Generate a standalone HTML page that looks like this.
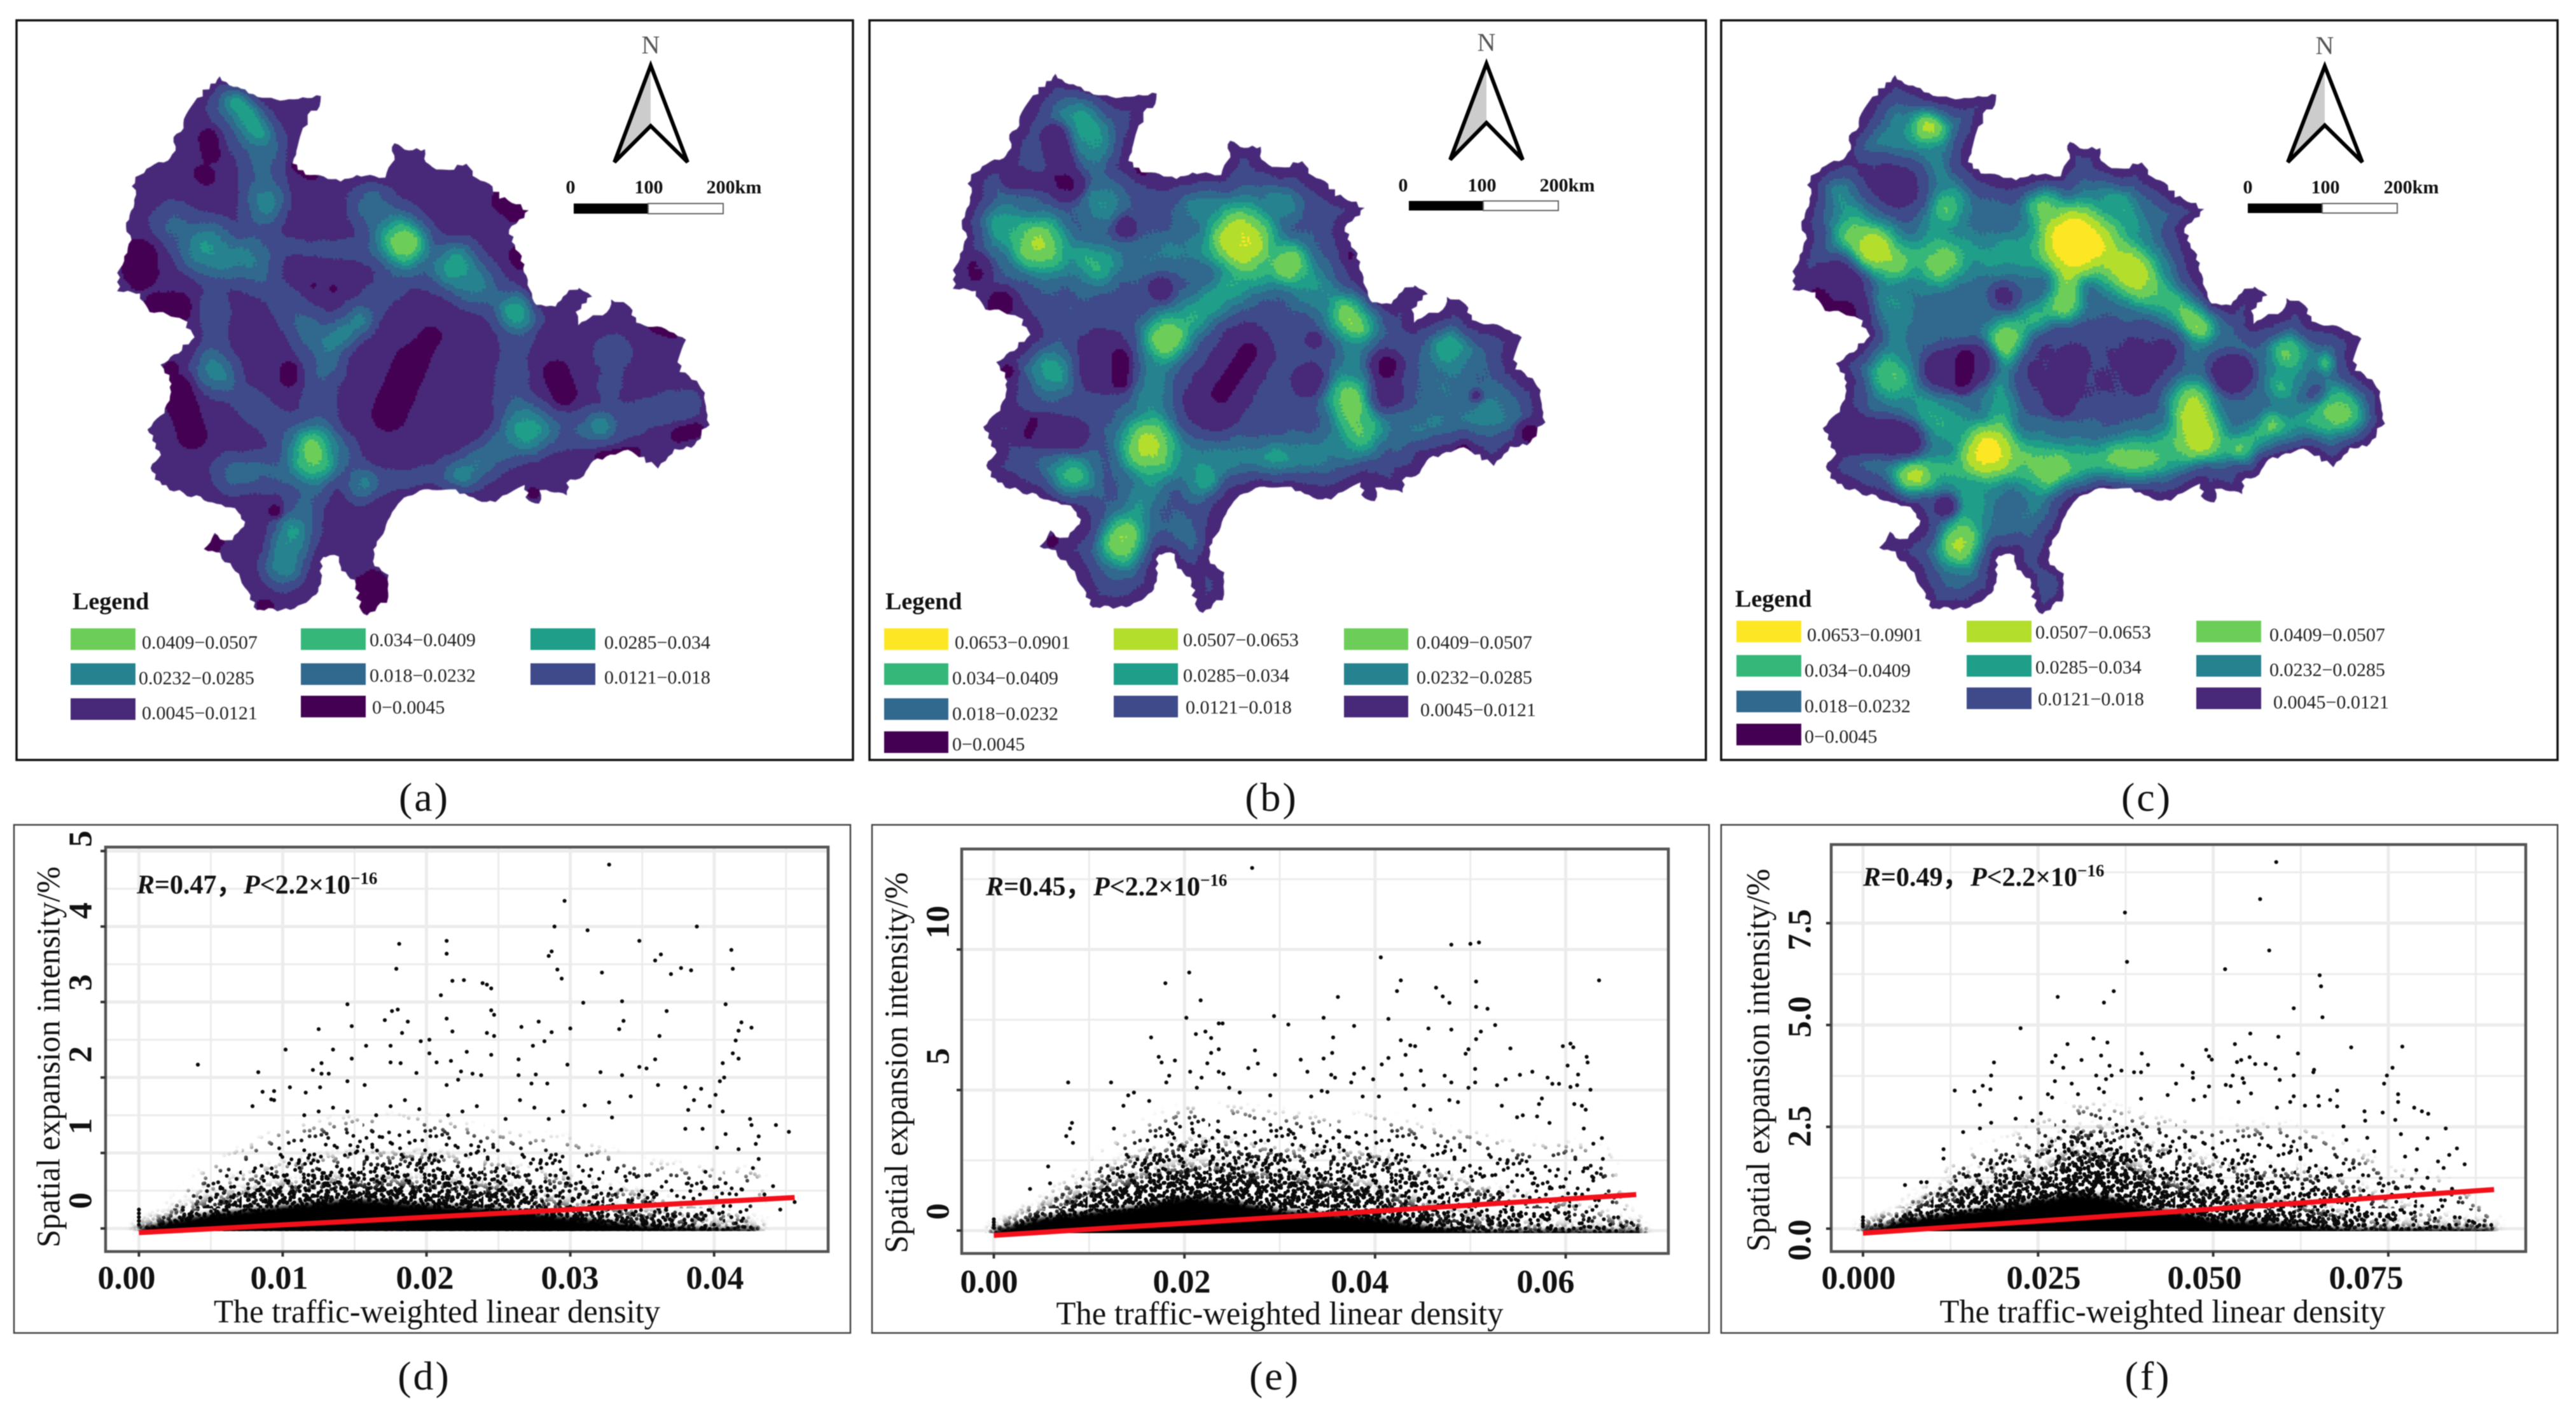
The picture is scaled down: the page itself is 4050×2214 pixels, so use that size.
<!DOCTYPE html>
<html lang="en">
<head>
<meta charset="utf-8">
<title>Traffic-weighted linear density and spatial expansion intensity</title>
<style>
html,body{margin:0;padding:0;background:#fff;}
#figure{position:relative;width:4050px;height:2214px;overflow:hidden;background:#fff;filter:blur(0.7px);}
#figure canvas{position:absolute;}
#figure svg{position:absolute;left:0;top:0;}
text{font-family:"Liberation Serif",serif;fill:#111;}
.lg{font-size:30px;fill:#222;}
.lgt{font-size:38px;font-weight:bold;}
.sc{font-size:30px;font-weight:bold;}
.n{font-size:40px;fill:#555;text-anchor:middle;}
.cap{font-size:64px;text-anchor:middle;letter-spacing:3px;}
.tk{font-size:52px;font-weight:bold;text-anchor:middle;dominant-baseline:central;}
.ax{font-size:52px;text-anchor:middle;dominant-baseline:central;}
.r{font-size:42px;font-weight:bold;}
.r .i{font-style:italic;}
.sup{font-size:27px;}
</style>
</head>
<body>
<div id="figure">
<canvas id="map-a" width="970" height="890" style="left:170px;top:100px"></canvas>
<canvas id="map-b" width="970" height="890" style="left:1484px;top:96px"></canvas>
<canvas id="map-c" width="970" height="890" style="left:2804px;top:98px"></canvas>
<svg id="svg" width="4050" height="2214" viewBox="0 0 4050 2214" xmlns="http://www.w3.org/2000/svg">
<defs id="defs">
<filter id="soft-wide" filterUnits="userSpaceOnUse" x="0" y="1200" width="4050" height="1014"><feGaussianBlur stdDeviation="9"/></filter>
<filter id="soft-narrow" filterUnits="userSpaceOnUse" x="0" y="1200" width="4050" height="1014"><feGaussianBlur stdDeviation="4"/></filter>
</defs>

<!-- panel frames -->
<rect x="26" y="32" width="1315" height="1163" fill="none" stroke="#111" stroke-width="3.5"/>
<rect x="1367" y="32" width="1315" height="1163" fill="none" stroke="#111" stroke-width="3.5"/>
<rect x="2706" y="32" width="1315" height="1163" fill="none" stroke="#111" stroke-width="3.5"/>
<rect x="22" y="1297" width="1315" height="799" fill="none" stroke="#444" stroke-width="2.5"/>
<rect x="1371" y="1297" width="1316" height="799" fill="none" stroke="#444" stroke-width="2.5"/>
<rect x="2706" y="1297" width="1315" height="799" fill="none" stroke="#444" stroke-width="2.5"/>

<!-- north arrows and scale bars -->
<g>
<text class="n" x="1023" y="84">N</text>
<polygon points="1023,103 966,255 1023,198" fill="#ccc"/>
<polygon points="1023,103 966,255 1023,198 1081,255" fill="none" stroke="#000" stroke-width="6"/>
</g>
<g>
<rect x="902" y="320" width="117" height="16" fill="#000"/><rect x="1019" y="320" width="118" height="16" fill="#fff" stroke="#666" stroke-width="2"/>
<text class="sc" x="897" y="304" text-anchor="middle">0</text><text class="sc" x="1020" y="304" text-anchor="middle">100</text><text class="sc" x="1154" y="304" text-anchor="middle">200km</text>
</g>
<g>
<text class="n" x="2337" y="80">N</text>
<polygon points="2337,100 2280,251 2337,193" fill="#ccc"/>
<polygon points="2337,100 2280,251 2337,193 2394,251" fill="none" stroke="#000" stroke-width="6"/>
</g>
<g>
<rect x="2215" y="316" width="117" height="15" fill="#000"/><rect x="2332" y="316" width="118" height="15" fill="#fff" stroke="#666" stroke-width="2"/>
<text class="sc" x="2206" y="301" text-anchor="middle">0</text><text class="sc" x="2330" y="301" text-anchor="middle">100</text><text class="sc" x="2464" y="301" text-anchor="middle">200km</text>
</g>
<g>
<text class="n" x="3655" y="85">N</text>
<polygon points="3655,104 3597,255 3655,197" fill="#ccc"/>
<polygon points="3655,104 3597,255 3655,197 3714,255" fill="none" stroke="#000" stroke-width="6"/>
</g>
<g>
<rect x="3534" y="320" width="117" height="15" fill="#000"/><rect x="3651" y="320" width="118" height="15" fill="#fff" stroke="#666" stroke-width="2"/>
<text class="sc" x="3534" y="304" text-anchor="middle">0</text><text class="sc" x="3656" y="304" text-anchor="middle">100</text><text class="sc" x="3791" y="304" text-anchor="middle">200km</text>
</g>

<!-- legend a -->
<g>
<text class="lgt" x="114" y="958">Legend</text>
<g><rect x="111" y="988" width="102" height="34" fill="#6dcd59"/><text class="lg" x="223" y="1020">0.0409−0.0507</text></g>
<g><rect x="473" y="988" width="102" height="34" fill="#35b779"/><text class="lg" x="581" y="1016">0.034−0.0409</text></g>
<g><rect x="834" y="988" width="102" height="34" fill="#1f9e89"/><text class="lg" x="950" y="1020">0.0285−0.034</text></g>
<g><rect x="111" y="1043" width="102" height="34" fill="#26828e"/><text class="lg" x="218" y="1076">0.0232−0.0285</text></g>
<g><rect x="473" y="1043" width="102" height="34" fill="#31688e"/><text class="lg" x="581" y="1072">0.018−0.0232</text></g>
<g><rect x="834" y="1043" width="102" height="34" fill="#3e4a89"/><text class="lg" x="950" y="1075">0.0121−0.018</text></g>
<g><rect x="111" y="1098" width="102" height="34" fill="#482878"/><text class="lg" x="223" y="1131">0.0045−0.0121</text></g>
<g><rect x="473" y="1094" width="102" height="34" fill="#440154"/><text class="lg" x="585" y="1122">0−0.0045</text></g>
</g>

<!-- legend b -->
<g>
<text class="lgt" x="1392" y="958">Legend</text>
<g><rect x="1390" y="988" width="101" height="34" fill="#fde725"/><text class="lg" x="1501" y="1020">0.0653−0.0901</text></g>
<g><rect x="1751" y="988" width="101" height="34" fill="#b4de2c"/><text class="lg" x="1860" y="1016">0.0507−0.0653</text></g>
<g><rect x="2113" y="988" width="101" height="34" fill="#6dcd59"/><text class="lg" x="2227" y="1020">0.0409−0.0507</text></g>
<g><rect x="1390" y="1043" width="101" height="34" fill="#35b779"/><text class="lg" x="1497" y="1076">0.034−0.0409</text></g>
<g><rect x="1751" y="1043" width="101" height="34" fill="#1f9e89"/><text class="lg" x="1860" y="1072">0.0285−0.034</text></g>
<g><rect x="2113" y="1043" width="101" height="34" fill="#26828e"/><text class="lg" x="2227" y="1075">0.0232−0.0285</text></g>
<g><rect x="1390" y="1098" width="101" height="34" fill="#31688e"/><text class="lg" x="1497" y="1132">0.018−0.0232</text></g>
<g><rect x="1751" y="1094" width="101" height="34" fill="#3e4a89"/><text class="lg" x="1864" y="1122">0.0121−0.018</text></g>
<g><rect x="2113" y="1094" width="101" height="34" fill="#482878"/><text class="lg" x="2233" y="1126">0.0045−0.0121</text></g>
<g><rect x="1390" y="1150" width="101" height="34" fill="#440154"/><text class="lg" x="1497" y="1180">0−0.0045</text></g>
</g>

<!-- legend c -->
<g>
<text class="lgt" x="2728" y="954">Legend</text>
<g><rect x="2730" y="976" width="102" height="34" fill="#fde725"/><text class="lg" x="2841" y="1008">0.0653−0.0901</text></g>
<g><rect x="3092" y="976" width="102" height="34" fill="#b4de2c"/><text class="lg" x="3200" y="1004">0.0507−0.0653</text></g>
<g><rect x="3453" y="976" width="102" height="34" fill="#6dcd59"/><text class="lg" x="3568" y="1008">0.0409−0.0507</text></g>
<g><rect x="2730" y="1030" width="102" height="34" fill="#35b779"/><text class="lg" x="2837" y="1064">0.034−0.0409</text></g>
<g><rect x="3092" y="1030" width="102" height="34" fill="#1f9e89"/><text class="lg" x="3200" y="1059">0.0285−0.034</text></g>
<g><rect x="3453" y="1030" width="102" height="34" fill="#26828e"/><text class="lg" x="3568" y="1063">0.0232−0.0285</text></g>
<g><rect x="2730" y="1086" width="102" height="34" fill="#31688e"/><text class="lg" x="2837" y="1120">0.018−0.0232</text></g>
<g><rect x="3092" y="1081" width="102" height="34" fill="#3e4a89"/><text class="lg" x="3204" y="1109">0.0121−0.018</text></g>
<g><rect x="3453" y="1081" width="102" height="34" fill="#482878"/><text class="lg" x="3574" y="1114">0.0045−0.0121</text></g>
<g><rect x="2730" y="1138" width="102" height="34" fill="#440154"/><text class="lg" x="2837" y="1168">0−0.0045</text></g>
</g>

<!-- captions -->
<text class="cap" x="667" y="1275">(a)</text>
<text class="cap" x="1999" y="1275">(b)</text>
<text class="cap" x="3375" y="1275">(c)</text>
<text class="cap" x="667" y="2185">(d)</text>
<text class="cap" x="2004" y="2185">(e)</text>
<text class="cap" x="3377" y="2185">(f)</text>

<!-- scatter plot layers are inserted here by script -->
<g id="plot-d"></g>
<g id="plot-e"></g>
<g id="plot-f"></g>

<!-- plot d text -->
<g>
<text class="tk" x="199" y="2010">0.00</text>
<text class="tk" x="439" y="2010">0.01</text>
<text class="tk" x="668" y="2010">0.02</text>
<text class="tk" x="896" y="2010">0.03</text>
<text class="tk" x="1124" y="2010">0.04</text>
<text class="tk" transform="translate(127,1888) rotate(-90)">0</text>
<text class="tk" transform="translate(127,1771) rotate(-90)">1</text>
<text class="tk" transform="translate(127,1658) rotate(-90)">2</text>
<text class="tk" transform="translate(127,1545) rotate(-90)">3</text>
<text class="tk" transform="translate(127,1432) rotate(-90)">4</text>
<text class="tk" transform="translate(127,1319) rotate(-90)">5</text>
<text class="ax" x="687" y="2063" textLength="702" lengthAdjust="spacingAndGlyphs">The traffic-weighted linear density</text>
<text class="ax" transform="translate(77,1662) rotate(-90)" textLength="599" lengthAdjust="spacingAndGlyphs">Spatial expansion intensity/%</text>
<text class="r" x="215" y="1405"><tspan class="i">R</tspan>=0.47，<tspan class="i" x="383">P</tspan>&lt;2.2×10<tspan class="sup" dy="-15">−16</tspan></text>
</g>

<!-- plot e text -->
<g>
<text class="tk" x="1555" y="2016">0.00</text>
<text class="tk" x="1858" y="2016">0.02</text>
<text class="tk" x="2138" y="2016">0.04</text>
<text class="tk" x="2430" y="2016">0.06</text>
<text class="tk" transform="translate(1475,1905) rotate(-90)">0</text>
<text class="tk" transform="translate(1475,1661) rotate(-90)">5</text>
<text class="tk" transform="translate(1475,1450) rotate(-90)">10</text>
<text class="ax" x="2012" y="2066" textLength="703" lengthAdjust="spacingAndGlyphs">The traffic-weighted linear density</text>
<text class="ax" transform="translate(1410,1671) rotate(-90)" textLength="599" lengthAdjust="spacingAndGlyphs">Spatial expansion intensity/%</text>
<text class="r" x="1550" y="1408"><tspan class="i">R</tspan>=0.45，<tspan class="i" x="1719">P</tspan>&lt;2.2×10<tspan class="sup" dy="-15">−16</tspan></text>
</g>

<!-- plot f text -->
<g>
<text class="tk" x="2922" y="2010">0.000</text>
<text class="tk" x="3213" y="2010">0.025</text>
<text class="tk" x="3466" y="2010">0.050</text>
<text class="tk" x="3720" y="2010">0.075</text>
<text class="tk" transform="translate(2830,1950) rotate(-90)">0.0</text>
<text class="tk" transform="translate(2830,1771) rotate(-90)">2.5</text>
<text class="tk" transform="translate(2830,1599) rotate(-90)">5.0</text>
<text class="tk" transform="translate(2830,1462) rotate(-90)">7.5</text>
<text class="ax" x="3400" y="2063" textLength="701" lengthAdjust="spacingAndGlyphs">The traffic-weighted linear density</text>
<text class="ax" transform="translate(2765,1667) rotate(-90)" textLength="602" lengthAdjust="spacingAndGlyphs">Spatial expansion intensity/%</text>
<text class="r" x="2929" y="1393"><tspan class="i">R</tspan>=0.49，<tspan class="i" x="3098">P</tspan>&lt;2.2×10<tspan class="sup" dy="-15">−16</tspan></text>
</g>
</svg>
</div>

<script>
/* ---------- density classes ---------- */
const classLimits = [0.0045,0.0121,0.018,0.0232,0.0285,0.034,0.0409,0.0507,0.0653];
const classColors = ["#440154","#482878","#3e4a89","#31688e","#26828e","#1f9e89","#35b779","#6dcd59","#b4de2c","#fde725"];

/* study-area outline, map units */
const outline = [[395,150],[420,170],[440,178],[480,195],[520,195],[578,188],[575,208],[555,225],[545,260],[530,295],[528,318],[550,340],[590,350],[605,352],[650,345],[690,345],[705,320],[710,280],[735,295],[765,292],[765,320],[800,335],[840,320],[850,345],[880,360],[900,385],[950,410],[935,430],[915,450],[925,480],[940,510],[945,540],[965,600],[1000,600],[1025,570],[1045,560],[1065,580],[1040,610],[1040,635],[1090,610],[1100,585],[1135,600],[1145,630],[1190,640],[1235,665],[1220,700],[1225,725],[1265,760],[1275,830],[1250,870],[1215,880],[1185,915],[1130,880],[1060,905],[1050,930],[1020,945],[1020,970],[975,960],[970,985],[950,980],[945,950],[920,965],[875,985],[820,960],[770,955],[715,985],[700,1010],[680,1060],[670,1100],[700,1125],[700,1170],[660,1205],[650,1195],[638,1135],[610,1110],[610,1090],[578,1090],[580,1135],[570,1165],[530,1190],[460,1195],[450,1165],[435,1130],[395,1085],[368,1075],[385,1045],[410,1060],[440,1030],[430,1000],[390,985],[330,965],[290,950],[270,915],[290,890],[265,840],[300,800],[310,750],[290,715],[320,690],[350,660],[330,625],[270,610],[245,570],[215,570],[215,525],[235,470],[225,435],[245,390],[240,355],[270,325],[310,310],[315,270],[335,235],[350,200],[380,165]];

/* density ridges: x1,y1,x2,y2,spread,peak density */
const mapAPeaks = [[430,205,465,260,20,.029],[420,200,470,300,38,.0165],[470,300,470,420,30,.0165],[480,390,480,390,25,.0225],[375,485,375,485,34,.028],[310,440,400,510,32,.018],[450,505,450,505,32,.0215],[450,510,550,640,28,.015],[550,640,590,720,28,.015],[585,720,570,830,28,.015],[600,665,650,625,20,.0215],[590,680,730,530,28,.015],[730,475,730,475,26,.047],[720,470,720,470,38,.03],[665,400,720,470,32,.02],[820,515,820,515,28,.0285],[740,490,850,550,32,.019],[850,550,930,610,30,.018],[930,610,930,610,26,.03],[925,640,920,780,26,.015],[950,840,950,840,32,.0285],[830,930,940,850,26,.021],[960,850,1080,830,28,.016],[1080,835,1240,790,28,.015],[1100,690,1100,690,32,.0145],[1095,755,1095,755,20,.0145],[1080,835,1080,835,16,.02],[390,725,390,725,28,.0215],[385,600,385,725,24,.015],[385,730,500,840,24,.015],[562,880,565,900,28,.042],[560,885,560,885,40,.03],[610,880,650,950,26,.015],[650,950,830,930,24,.0135],[655,945,655,945,20,.0205],[420,925,530,920,28,.0185],[565,930,525,1060,28,.017],[525,1045,510,1105,26,.0265],[500,485,650,490,20,.0125]];
const mapACold = [[375,270,380,300,22,.8],[365,340,372,345,20,.8],[255,500,255,530,38,.8],[290,600,320,600,32,.8],[320,760,345,850,32,.8],[300,730,310,720,14,.8],[520,725,520,740,20,.8],[775,660,735,720,24,.8],[740,710,700,810,38,.8],[1000,730,1015,770,28,.8],[905,395,925,410,25,.8],[495,1000,495,1000,15,.8],[670,1150,670,1170,34,.8],[475,1185,480,1185,14,.8],[1220,850,1250,840,18,.7],[1080,895,1140,885,14,.7],[1180,640,1210,650,14,.7],[930,500,935,510,18,.7],[600,565,600,565,8,.8],[565,558,565,558,6,.8],[535,325,560,340,14,.7],[380,1075,390,1060,14,.8],[960,965,960,965,12,.8]];

const mapBPeaks = [[695,470,695,470,45,.068],[320,475,320,475,42,.05],[250,440,330,490,35,.03],[780,515,780,515,30,.045],[900,620,900,620,35,.05],[555,665,555,665,30,.042],[520,875,520,875,42,.058],[475,1060,475,1060,38,.05],[890,780,910,840,32,.041],[345,725,345,725,35,.03],[380,935,380,935,35,.034],[625,940,625,940,28,.03],[400,220,420,280,35,.03],[435,395,435,395,30,.024],[1075,680,1075,680,35,.03],[1160,815,1160,815,45,.021],[1060,750,1060,750,35,.02],[430,520,430,520,25,.027],[405,500,405,500,20,.025],[755,905,755,905,25,.024],[590,1060,590,1060,25,.023],[555,655,720,530,30,.032],[540,690,525,830,25,.025],[750,490,880,610,30,.025],[900,650,890,770,24,.022],[525,930,480,1040,25,.024],[300,490,430,520,30,.02],[430,520,640,480,30,.02],[560,910,900,880,28,.022],[910,850,1160,810,30,.018],[610,400,700,430,32,.024],[760,390,770,400,25,.024]];
const mapBCold = [[440,700,440,720,60,.5],[470,700,470,745,20,.75],[640,790,700,690,62,.5],[655,770,705,690,20,.8],[960,715,960,715,32,.78],[960,770,960,770,38,.45],[815,745,815,745,38,.45],[825,665,825,665,18,.45],[545,565,545,565,28,.45],[480,445,480,445,25,.5],[350,270,370,370,30,.55],[270,350,390,360,22,.45],[1125,775,1125,775,14,.45],[205,525,205,530,30,.7],[250,590,250,590,32,.75],[300,840,380,850,36,.5],[300,850,310,825,10,.75],[265,725,265,725,18,.65],[1100,885,1100,885,20,.7],[1220,845,1220,845,24,.7],[510,330,510,330,18,.65],[890,500,890,500,14,.55],[345,1060,345,1060,16,.65]];

const mapCPeaks = [[672,470,672,470,45,.092],[720,490,770,530,40,.056],[610,400,650,500,30,.042],[660,480,650,600,22,.045],[790,560,880,620,30,.036],[885,630,885,630,30,.05],[405,250,405,250,28,.05],[305,485,305,485,35,.056],[270,460,340,510,28,.042],[425,515,425,515,35,.036],[435,405,435,405,25,.03],[545,675,545,675,28,.048],[545,660,650,590,25,.036],[335,735,335,735,30,.031],[510,885,510,885,38,.075],[375,935,375,935,28,.044],[460,1065,460,1065,35,.05],[870,780,890,850,35,.06],[1145,810,1145,810,40,.043],[1050,690,1050,690,28,.036],[1120,710,1120,710,15,.033],[1035,755,1035,755,18,.029],[1020,830,1020,830,20,.034],[510,885,620,920,35,.037],[620,920,760,905,35,.037],[760,905,880,870,35,.037],[880,870,975,880,20,.035],[975,870,1145,810,30,.03],[540,700,530,870,25,.031],[885,640,870,780,22,.03],[500,900,370,935,25,.034],[480,960,460,1060,30,.028],[300,500,430,510,30,.027],[430,510,600,490,30,.028],[335,600,335,740,30,.024],[335,740,420,825,30,.024],[420,825,500,870,30,.024],[1050,700,1035,760,25,.024],[400,260,430,400,35,.021],[430,400,420,500,35,.021],[300,290,410,250,30,.021],[240,390,300,470,30,.024],[610,1000,610,1000,30,.02],[740,395,760,440,30,.03],[600,1140,610,1140,30,.017]];
const mapCCold = [[430,725,490,710,45,.6],[470,700,465,750,22,.65],[620,720,830,720,85,.42],[660,710,640,790,28,.55],[780,740,780,740,24,.55],[950,730,950,730,42,.68],[320,350,360,370,55,.5],[240,560,240,590,60,.65],[280,850,360,860,40,.6],[540,580,540,580,30,.45],[435,990,435,990,25,.6],[1100,770,1100,770,20,.3]];

const SCALE_Y = 0.8036;
function renderMap(id, peaks, cold, base, floor, fadeW, kx, ox, oy) {
  const canvas = document.getElementById(id);
  const ctx = canvas.getContext('2d');
  const W = canvas.width, H = canvas.height, STEP = 3;
  const tp = (p,m) => [p[0]*kx+ox, p[1]*SCALE_Y+oy, p[2]*kx+ox, p[3]*SCALE_Y+oy, p[4]*m, p[5]];
  const K = peaks.map(p => tp(p, p[5]>=.05 ? .88 : p[5]>=.03 ? 1.0 : 1.15));
  const C = cold.map(p => tp(p,.85));
  const poly = outline.map(p => [p[0]*0.8737-170, p[1]*SCALE_Y-100]);
  const seg2 = (x,y,s) => {
    const dx=s[2]-s[0], dy=s[3]-s[1], l=dx*dx+dy*dy;
    let t = l>0 ? ((x-s[0])*dx+(y-s[1])*dy)/l : 0;
    t = t<0?0:t>1?1:t;
    const ax=x-s[0]-t*dx, ay=y-s[1]-t*dy;
    return ax*ax+ay*ay;
  };
  ctx.save();
  ctx.beginPath();
  for (let i=0;i<poly.length;i++) {
    const a=poly[i], b=poly[(i+1)%poly.length];
    const L=Math.hypot(b[0]-a[0],b[1]-a[1]), n=Math.max(1,Math.round(L/7));
    for (let j=0;j<n;j++) {
      const t=j/n, x=a[0]+(b[0]-a[0])*t, y=a[1]+(b[1]-a[1])*t;
      const w=2.4*Math.sin(x*0.73+y*1.31)+1.6*Math.sin(x*1.9-y*0.87);
      const px=x-(b[1]-a[1])/L*w, py=y+(b[0]-a[0])/L*w;
      if (i===0&&j===0) ctx.moveTo(px,py); else ctx.lineTo(px,py);
    }
  }
  ctx.closePath();
  ctx.clip();
  for (let cy=0;cy<H;cy+=STEP) {
    for (let cx=0;cx<W;cx+=STEP) {
      const x=cx+1.5, y=cy+1.5;
      let e=1e9;
      for (let i=0;i<poly.length;i++) {
        const a=poly[i], b=poly[(i+1)%poly.length];
        const d=seg2(x,y,[a[0],a[1],b[0],b[1]]);
        if(d<e) e=d;
      }
      e=Math.sqrt(e);
      let f3=base*base*base;
      for (const k of K) {
        const d=seg2(x,y,k);
        if (d>16*k[4]*k[4]) continue;
        const g=k[5]*Math.exp(-d/(2*k[4]*k[4]));
        f3+=g*g*g;
      }
      let f=Math.cbrt(f3);
      for (const c of C) {
        const d=seg2(x,y,c)/(c[4]*c[4]);
        if (d>6) continue;
        f*=1-c[5]*Math.exp(-d*d);
      }
      f*=floor+(1-floor)*Math.min(1,e/fadeW);
      /* contour roughness */
      const wob=.5*Math.sin(x*.035+y*.021)+.5*Math.sin(x*.017-y*.043+1.3)+.35*Math.sin(x*.09+y*.07)+.3*Math.sin(x*.13-y*.11+.7);
      f*=1+.07*wob+.03*Math.sin(x*.5+y*.37)*Math.sin(x*.31-y*.6);
      let cls=0;
      while (cls<classLimits.length && f>=classLimits[cls]) cls++;
      ctx.fillStyle=classColors[cls];
      ctx.fillRect(cx,cy,STEP,STEP);
    }
  }
  ctx.restore();
}
renderMap('map-a', mapAPeaks, mapACold, 0.0085, 0.75, 20, 0.8737, -170, -100);
renderMap('map-b', mapBPeaks, mapBCold, 0.0165, 0.5, 45, 0.8546, 1360-1484, -96);
renderMap('map-c', mapCPeaks, mapCCold, 0.020, 0.4, 45, 0.8737, 2680-2804, -98);

/* ---------- scatter data ---------- */
const dXMajor=[0,.01,.02,.03,.04];
const dXMinor=[.005,.015,.025,.035,.045];
const dYMajor=[0,1,2,3,4,5];
const dYMinor=[.5,1.5,2.5,3.5,4.5];
const dBandX=[0,.002,.005,.01,.015,.02,.025,.03,.035,.038,.04,.043];
const dSolid=[0,.1,.2,.30,.40,.32,.27,.15,.05,.02,0,0];
const dDense=[0,.14,.38,.55,.65,.6,.55,.3,.2,.12,.03,0];
const dMid=[0,.16,.5,.8,.95,.95,.8,.6,.4,.25,.2,.05];
const dSparse=[0,.18,.75,1.25,1.4,1.4,1.2,1.1,.8,.75,.7,.7];
const dTrendX=[0,.0456];
const dTrendY=[-.055,.41];
const dPoints=[[0,.05],[0,.1],[0,.15],[0,.2],[0,.25],[.0327,4.82],[.0296,4.34],[.0289,4],[.0312,3.95],[.0388,4],[.0348,3.81],[.0214,3.81],[.0214,3.64],[.0181,3.77],[.0179,3.44],[.0285,3.61],[.0287,3.67],[.0412,3.69],[.0413,3.44],[.0363,3.63],[.0359,3.55],[.0377,3.45],[.0384,3.42],[.037,3.37],[.0322,3.39],[.0291,3.43],[.0294,3.31],[.0218,3.28],[.0226,3.29],[.0239,3.25],[.0245,3.18],[.0242,3.23],[.021,3.09],[.0145,2.97],[.0309,2.99],[.0336,3.01],[.0408,2.97],[.0245,2.89],[.0247,2.83],[.0367,2.88],[.018,2.9],[.0176,2.88],[.0171,2.76],[.0187,2.74],[.0214,2.78],[.0266,2.67],[.0278,2.74],[.0337,2.75],[.0334,2.64],[.0419,2.73],[.0426,2.66],[.0417,2.62],[.0125,2.64],[.0148,2.68],[.03,2.65],[.0287,2.6],[.0218,2.61],[.0242,2.59],[.0247,2.55],[.0362,2.55],[.0196,2.48],[.0202,2.5],[.0158,2.42],[.0175,2.42],[.0183,2.59],[.0102,2.37],[.0135,2.37],[.0415,2.49],[.0274,2.42],[.0282,2.48],[.0413,2.32],[.0417,2.25],[.0202,2.32],[.0228,2.34],[.0245,2.3],[.0041,2.17],[.0148,2.25],[.0264,2.24],[.0359,2.24],[.0348,2.14],[.0353,2.12],[.0298,2.17],[.0207,2.2],[.0217,2.22],[.0175,2.2],[.0182,2.19],[.0083,2.07],[.0121,2.1],[.0127,2.19],[.0127,2.05],[.0132,2.05],[.0321,2.07],[.0336,2.03],[.0406,2.19],[.0193,2.06],[.0224,2.08],[.0232,2.05],[.0238,2.03],[.0264,2.03],[.0276,2.04],[.0407,2],[.0404,1.95],[.0361,1.9],[.038,1.87],[.0391,1.85],[.0105,1.87],[.0086,1.81],[.0094,1.82],[.0116,1.8],[.0126,1.87],[.0157,1.9],[.0145,1.95],[.0214,1.9],[.0222,1.97],[.0273,1.92],[.0284,1.92],[.0342,1.75],[.0401,1.77],[.0092,1.71],[.0094,1.7],[.0079,1.62],[.031,1.63],[.0327,1.67],[.0397,1.62],[.0386,1.7],[.0329,1.47],[.0382,1.57],[.0406,1.55],[.0443,1.37],[.0452,1.28],[.0425,1.45],[.0426,1.37],[.038,1.32],[.0392,1.32],[.0408,1.25],[.0431,1.22],[.0429,1.12],[.0417,1.05],[.0431,.92],[.0427,.8],[.0441,.56],[.0435,.45],[.0456,.35],[.0446,.25],[.0402,1.07],[.0394,.75],[.0408,.6],[.0419,.52],[.0394,.17],[.04,.05],[.0412,.15],[.0419,.1],[.0185,1.7],[.0175,1.62],[.0195,1.58],[.0225,1.55],[.0235,1.62],[.0265,1.7],[.0275,1.6],[.0295,1.55],[.0135,1.6],[.0125,1.55],[.0145,1.55],[.0115,1.5],[.0165,1.5],[.0215,1.5],[.0285,1.45],[.0255,1.45]];

const eXMajor=[0,.02,.04,.06];
const eXMinor=[.01,.03,.05];
const eYMajor=[0,5,10];
const eYMinor=[2.5,7.5,12.5];
const eBandX=[0,.002,.005,.01,.015,.02,.025,.03,.035,.04,.045,.05,.055,.06,.064,.066,.068];
const eSolid=[0,.2,.47,.67,.87,1.2,1.07,.74,.6,.47,.2,.02,0,0,0,0,0];
const eDense=[0,.25,.7,1.4,1.9,2.3,2.2,1.9,1.8,1.5,.9,.4,.15,.05,0,0,0];
const eMid=[0,.3,.8,1.7,2.6,3.1,3,2.8,2.7,2.6,2.1,1.5,1.1,.9,.5,.2,0];
const eSparse=[0,.35,.9,2.1,3.5,4.2,4.2,4,3.8,3.9,3.5,3.3,2.8,2.9,2.7,.6,.15];
const eTrendX=[0,.0674];
const eTrendY=[-.17,1.28];
const ePoints=[[0,.1],[0,.2],[0,.3],[0,.4],[.0271,12.9],[.048,10.17],[.05,10.2],[.0509,10.25],[.0406,9.72],[.0205,9.18],[.018,8.8],[.0427,8.9],[.0506,8.86],[.0635,8.9],[.0423,8.52],[.0464,8.64],[.0471,8.33],[.0478,8.1],[.0361,8.31],[.0217,8.19],[.0506,7.96],[.0518,7.89],[.0294,7.63],[.0346,7.57],[.0202,7.57],[.0414,7.53],[.0526,7.31],[.0309,7.33],[.0378,7.28],[.0236,7.37],[.024,7.37],[.0456,7.19],[.048,7.15],[.0511,7.08],[.0165,6.87],[.0212,6.99],[.0222,7.08],[.0228,6.85],[.0356,6.87],[.0427,6.77],[.0506,6.81],[.0442,6.56],[.0437,6.59],[.0542,6.48],[.0597,6.56],[.0605,6.65],[.0608,6.52],[.0274,6.41],[.0236,6.45],[.0228,6.32],[.0498,6.45],[.0495,6.29],[.0432,6.25],[.0355,6.32],[.0173,6.18],[.0622,6.18],[.0623,5.98],[.019,6.05],[.0346,6.12],[.0322,6.08],[.0414,6.14],[.0407,5.91],[.0176,5.98],[.0224,5.95],[.0277,5.94],[.0267,5.78],[.0329,5.65],[.0602,5.87],[.0505,5.75],[.0448,5.69],[.0565,5.65],[.0613,5.55],[.0184,5.51],[.0206,5.65],[.0218,5.44],[.0236,5.65],[.0241,5.58],[.0295,5.54],[.0354,5.54],[.0358,5.44],[.0388,5.78],[.0378,5.58],[.0398,5.38],[.0428,5.54],[.0473,5.51],[.0552,5.54],[.0537,5.38],[.0581,5.44],[.0078,5.27],[.0123,5.27],[.0181,5.27],[.0375,5.27],[.048,5.27],[.0505,5.27],[.0528,5.17],[.0586,5.22],[.0593,5.22],[.0605,5.11],[.0612,5.17],[.0451,5.17],[.0498,5.08],[.0626,5.01],[.0432,5.04],[.0213,5.08],[.0247,5.08],[.0344,4.97],[.035,4.93],[.0258,4.91],[.0147,4.91],[.0141,4.81],[.029,4.81],[.0333,4.77],[.0387,4.77],[.0404,4.77],[.0575,4.7],[.0478,4.64],[.0487,4.57],[.0163,4.61],[.0136,4.44],[.0533,4.44],[.0621,4.3],[.0572,4.5],[.0441,4.44],[.0458,4.3],[.0609,4.5],[.0617,4.44],[.0549,4.03],[.0555,4.1],[.057,4.06],[.0638,3.29],[.0629,3.09],[.0082,3.83],[.008,3.63],[.0076,3.36],[.0083,3.12],[.0583,3.83],[.0619,3.63],[.0126,3.63],[.0057,2.28],[.0059,1.68],[.0038,1.48],[.0639,2.55],[.0623,2.22],[.0629,1.88],[.0655,.47],[.064,.4],[.0675,.07],[.0669,.27],[.066,.13],[.0635,.07]];

const fXMajor=[0,.025,.05,.075];
const fXMinor=[.0125,.0375,.0625,.0875];
const fYMajor=[0,2.5,5,7.5];
const fYMinor=[1.25,3.75,6.25,8.75];
const fBandX=[0,.003,.005,.01,.015,.02,.025,.03,.035,.04,.045,.05,.055,.06,.065,.07,.075,.08,.085,.09];
const fSolid=[0,.09,.19,.33,.45,.56,.7,.88,.79,.56,.42,.23,.19,.14,.05,0,0,0,0,0];
const fDense=[0,.16,.26,.7,.9,1.1,1.3,1.9,1.8,1.4,1.1,.8,.7,.6,.5,.2,.1,0,0,0];
const fMid=[0,.2,.34,.8,1.3,1.5,1.8,2.4,2.4,2,1.8,1.5,1.4,1.4,1.3,1,.6,.3,.1,0];
const fSparse=[0,.24,.42,.95,1.7,2,2.4,2.9,2.9,2.6,2.5,2.4,2.4,2.4,2.2,1.8,1.3,1.2,.9,.2];
const fTrendX=[0,.0901];
const fTrendY=[-.11,.96];
const fPoints=[[0,.05],[0,.12],[0,.2],[0,.28],[.059,9],[.0567,8.09],[.0374,7.76],[.058,6.83],[.0377,6.55],[.0517,6.37],[.0652,6.22],[.0654,5.95],[.0358,5.83],[.0278,5.69],[.0344,5.55],[.0615,5.41],[.0656,5.19],[.0225,4.92],[.0553,4.79],[.0593,4.71],[.0329,4.67],[.0349,4.57],[.0292,4.53],[.0531,4.53],[.077,4.47],[.0697,4.45],[.049,4.39],[.0621,4.3],[.0398,4.3],[.0275,4.25],[.034,4.25],[.0494,4.23],[.0552,4.21],[.0498,4.15],[.0312,4.14],[.054,4.14],[.0534,4.09],[.027,4.09],[.0187,4.08],[.056,4.04],[.0407,4.02],[.0456,4.01],[.0352,4],[.0575,4.04],[.0286,3.95],[.0756,3.95],[.0644,3.9],[.0589,3.93],[.0643,3.84],[.0369,3.88],[.0387,3.84],[.0397,3.84],[.0471,3.83],[.0183,3.76],[.0333,3.76],[.0355,3.76],[.0528,3.76],[.0615,3.76],[.0748,3.76],[.0542,3.69],[.0595,3.65],[.0471,3.7],[.0274,3.62],[.0347,3.67],[.0447,3.56],[.0298,3.56],[.0744,3.56],[.0518,3.53],[.0171,3.51],[.0525,3.5],[.0544,3.58],[.0494,3.49],[.0337,3.44],[.0182,3.42],[.0131,3.39],[.0159,3.37],[.0677,3.39],[.0344,3.35],[.0764,3.3],[.0264,3.3],[.0307,3.3],[.0554,3.32],[.0435,3.28],[.0488,3.25],[.0615,3.25],[.065,3.25],[.0667,3.16],[.0225,3.21],[.027,3.22],[.0536,3.11],[.0397,3.19],[.0472,3.16],[.0764,3.11],[.061,3.11],[.0651,3.02],[.0631,3.02],[.0591,2.97],[.0677,3],[.0167,3.04],[.0787,2.97],[.0798,2.88],[.0716,2.88],[.0742,2.85],[.0807,2.82],[.0717,2.65],[.076,2.67],[.0686,2.51],[.0832,2.46],[.0768,2.32],[.0806,2.22],[.072,2.23],[.069,2.18],[.0791,1.95],[.0848,1.97],[.0837,1.81],[.073,1.9],[.0774,1.77],[.0859,1.58],[.0821,1.65],[.0829,1.49],[.079,1.44],[.0806,1.25],[.0841,.98],[.0798,1.02],[.0845,.28],[.0865,.19],[.0897,.09],[.0877,.05],[.0837,.09],[.081,.05],[.0786,.09],[.0873,.14],[.006,1.07],[.0083,1.14],[.0091,1.14],[.0115,1.72],[.0115,1.95],[.0143,2.37],[.0167,2.46],[.0183,2.6],[.0218,2.7],[.0242,2.65],[.0254,2.83]];

/* ---------- scatter rendering ---------- */
const NS='http://www.w3.org/2000/svg';
function mk(tag, parent, attrs){
  const el=document.createElementNS(NS,tag);
  for(const k in attrs) el.setAttribute(k,attrs[k]);
  parent.appendChild(el);
  return el;
}
const defs=document.getElementById('defs');
function stipple(id, size, count){
  const p=mk('pattern',defs,{id:id,width:size,height:size,patternUnits:'userSpaceOnUse'});
  for(let i=0;i<count;i++){
    const u=(i*0.7548776662+0.37*Math.sin(i*2.399))%1, v=(i*0.5698402910+0.31*Math.cos(i*1.731))%1;
    const c=mk('circle',p,{cx:((u+1)%1)*size,cy:((v+1)%1)*size,r:3,fill:'#0a0a0a'});
    
    
  }
}
stipple('st-dense',190,1350);
stipple('st-mid',190,560);
stipple('st-sparse',190,190);

function drawScatter(groupId, box, xOrigin, xPerUnit, yOrigin, yPerUnit, xMaj, xMin, yMaj, yMin, bandX, solid, dense, mid, sparse, trendX, trendY, points){
  const g=document.getElementById(groupId);
  const X=v=>xOrigin+v*xPerUnit;
  const Y=v=>yOrigin-v*yPerUnit;
  const clipId=groupId+'-clip';
  const clip=mk('clipPath',defs,{id:clipId});
  mk('rect',clip,{x:box[0],y:box[1],width:box[2]-box[0],height:box[3]-box[1]});
  const baseClipId=groupId+'-base-clip';
  const baseClip=mk('clipPath',defs,{id:baseClipId});
  mk('rect',baseClip,{x:box[0],y:box[1],width:box[2]-box[0],height:Y(0)+4-box[1]});
  const plot=mk('g',g,{'clip-path':'url(#'+clipId+')'});
  
  
  const grid=(arr,vertical,w)=>arr.forEach(v=>{
    const p=vertical?X(v):Y(v);
    const l=mk('line',plot,vertical?{x1:p,x2:p,y1:box[1],y2:box[3]}:{x1:box[0],x2:box[2],y1:p,y2:p});
    l.setAttribute('stroke','#ececec');
    l.setAttribute('stroke-width',w);
    
    
  });
  grid(xMin,true,3);grid(yMin,false,3);grid(xMaj,true,5);grid(yMaj,false,5);
  const cloud=mk('g',plot,{'clip-path':'url(#'+baseClipId+')'});
  
  
  const envelope=vals=>{
    const pts=bandX.map((x,i)=>X(x)+','+Y(vals[i]));
    pts.push(X(bandX[bandX.length-1])+','+(yOrigin+60));
    pts.push(X(bandX[0])+','+(yOrigin+60));
    return pts.join(' ');
  };
  const band=(vals,fill,name)=>{
    const maskId=groupId+'-'+name;
    const m=mk('mask',defs,{id:maskId,maskUnits:'userSpaceOnUse',x:box[0],y:box[1],width:box[2]-box[0],height:box[3]-box[1]});
    const shape=mk('polygon',m,{points:envelope(vals),fill:'#fff',filter:'url(#soft-wide)'});
    
    
    const a=mk('rect',cloud,{x:box[0],y:box[1],width:box[2]-box[0],height:box[3]-box[1],fill:fill,mask:'url(#'+maskId+')'});
    
    
  };
  band(sparse,'url(#st-sparse)','sparse-point-cloud');
  band(mid,'url(#st-mid)','medium-point-cloud');
  band(dense,'url(#st-dense)','dense-point-cloud');
  const mass=mk('polygon',cloud,{points:envelope(solid),fill:'#050505',filter:'url(#soft-narrow)'});
  
  
  points.forEach(p=>{
    const c=mk('circle',plot,{cx:X(p[0]),cy:Y(p[1]),r:3.1,fill:'#0a0a0a'});
    
    
  });
  const t=mk('line',plot,{x1:X(trendX[0]),y1:Y(trendY[0]),x2:X(trendX[1]),y2:Y(trendY[1]),stroke:'#f4101a','stroke-width':8});
  
  
  const frame=mk('rect',g,{x:box[0],y:box[1],width:box[2]-box[0],height:box[3]-box[1],fill:'none',stroke:'#555','stroke-width':4.5});
  
  
  xMaj.forEach(v=>{
    const l=mk('line',g,{x1:X(v),x2:X(v),y1:box[3],y2:box[3]+8,stroke:'#333','stroke-width':4});
    
    
  });
  yMaj.forEach(v=>{
    const l=mk('line',g,{x1:box[0]-8,x2:box[0],y1:Y(v),y2:Y(v),stroke:'#333','stroke-width':4});
    
    
  });
}
drawScatter('plot-d',[166,1332,1302,1968],218.4,22608,1931.7,118.7,dXMajor,dXMinor,dYMajor,dYMinor,dBandX,dSolid,dDense,dMid,dSparse,dTrendX,dTrendY,dPoints);
drawScatter('plot-e',[1512,1335,2623,1971],1562.5,14985,1935,44.2,eXMajor,eXMinor,eYMajor,eYMinor,eBandX,eSolid,eDense,eMid,eSparse,eTrendX,eTrendY,ePoints);
drawScatter('plot-f',[2879,1328,3971,1968],2929,11012,1932,64.05,fXMajor,fXMinor,fYMajor,fYMinor,fBandX,fSolid,fDense,fMid,fSparse,fTrendX,fTrendY,fPoints);
</script>
</body>
</html>
